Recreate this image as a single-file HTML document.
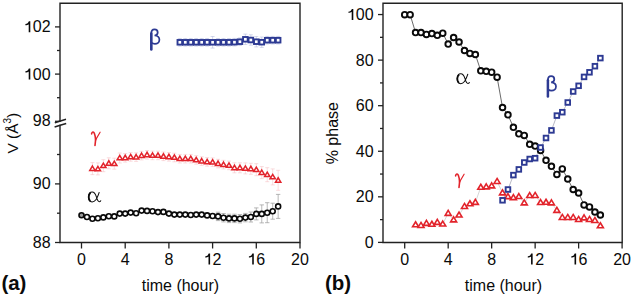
<!DOCTYPE html>
<html><head><meta charset="utf-8"><style>
html,body{margin:0;padding:0;background:#fff;width:632px;height:297px;overflow:hidden}
svg{display:block}
</style></head><body>
<svg width="632" height="297" viewBox="0 0 632 297">
<rect width="632" height="297" fill="#fff"/>
<path d="M60 3.2H300V242.5H60Z" fill="none" stroke="#222" stroke-width="1.4"/>
<rect x="58.5" y="121.8" width="3" height="3" fill="#fff"/>
<path d="M54.8 122.8 Q60 121.2 66 119.3 M54.6 127 Q60 125.2 66.2 123.5" fill="none" stroke="#222" stroke-width="1.55"/>
<path d="M55 26.9H60" stroke="#222" stroke-width="1.3"/>
<path d="M55 74.1H60" stroke="#222" stroke-width="1.3"/>
<path d="M55 121.3H60" stroke="#222" stroke-width="1.3"/>
<path d="M55 183.9H60" stroke="#222" stroke-width="1.3"/>
<path d="M55 242.5H60" stroke="#222" stroke-width="1.3"/>
<path d="M57 50.5H60" stroke="#222" stroke-width="1.3"/>
<path d="M57 97.7H60" stroke="#222" stroke-width="1.3"/>
<path d="M57 154.5H60" stroke="#222" stroke-width="1.3"/>
<path d="M57 213.2H60" stroke="#222" stroke-width="1.3"/>
<path d="M81.5 242.5V248.5" stroke="#222" stroke-width="1.3"/>
<path d="M125.2 242.5V248.5" stroke="#222" stroke-width="1.3"/>
<path d="M168.9 242.5V248.5" stroke="#222" stroke-width="1.3"/>
<path d="M212.6 242.5V248.5" stroke="#222" stroke-width="1.3"/>
<path d="M256.3 242.5V248.5" stroke="#222" stroke-width="1.3"/>
<path d="M300 242.5V248.5" stroke="#222" stroke-width="1.3"/>
<path d="M383 3.2H622.2V242.5H383Z" fill="none" stroke="#222" stroke-width="1.4"/>
<path d="M378 242.4H383" stroke="#222" stroke-width="1.3"/>
<path d="M378 196.83H383" stroke="#222" stroke-width="1.3"/>
<path d="M378 151.26H383" stroke="#222" stroke-width="1.3"/>
<path d="M378 105.69H383" stroke="#222" stroke-width="1.3"/>
<path d="M378 60.12H383" stroke="#222" stroke-width="1.3"/>
<path d="M378 14.55H383" stroke="#222" stroke-width="1.3"/>
<path d="M380 219.62H383" stroke="#222" stroke-width="1.3"/>
<path d="M380 174.05H383" stroke="#222" stroke-width="1.3"/>
<path d="M380 128.47H383" stroke="#222" stroke-width="1.3"/>
<path d="M380 82.91H383" stroke="#222" stroke-width="1.3"/>
<path d="M380 37.33H383" stroke="#222" stroke-width="1.3"/>
<path d="M404.7 242.5V248.5" stroke="#222" stroke-width="1.3"/>
<path d="M448.18 242.5V248.5" stroke="#222" stroke-width="1.3"/>
<path d="M491.66 242.5V248.5" stroke="#222" stroke-width="1.3"/>
<path d="M535.14 242.5V248.5" stroke="#222" stroke-width="1.3"/>
<path d="M578.62 242.5V248.5" stroke="#222" stroke-width="1.3"/>
<path d="M622.1 242.5V248.5" stroke="#222" stroke-width="1.3"/>
<path d="M218.06 212.2V220.6M215.86 212.2H220.26M215.86 220.6H220.26" stroke="#9a9a9a" stroke-width="0.7" fill="none"/>
<path d="M223.53 213.5V221.9M221.33 213.5H225.72M221.33 221.9H225.72" stroke="#9a9a9a" stroke-width="0.7" fill="none"/>
<path d="M228.99 214.2V222.6M226.79 214.2H231.19M226.79 222.6H231.19" stroke="#9a9a9a" stroke-width="0.7" fill="none"/>
<path d="M234.45 214.2V222.6M232.25 214.2H236.65M232.25 222.6H236.65" stroke="#9a9a9a" stroke-width="0.7" fill="none"/>
<path d="M239.91 214.5V222.9M237.71 214.5H242.11M237.71 222.9H242.11" stroke="#9a9a9a" stroke-width="0.7" fill="none"/>
<path d="M245.38 213.4V221.8M243.18 213.4H247.57M243.18 221.8H247.57" stroke="#9a9a9a" stroke-width="0.7" fill="none"/>
<path d="M250.84 212V222M248.64 212H253.04M248.64 222H253.04" stroke="#9a9a9a" stroke-width="0.7" fill="none"/>
<path d="M256.3 207.9V219.9M254.1 207.9H258.5M254.1 219.9H258.5" stroke="#9a9a9a" stroke-width="0.7" fill="none"/>
<path d="M261.76 204.9V222.9M259.56 204.9H263.96M259.56 222.9H263.96" stroke="#9a9a9a" stroke-width="0.7" fill="none"/>
<path d="M267.23 202.7V222.7M265.03 202.7H269.43M265.03 222.7H269.43" stroke="#9a9a9a" stroke-width="0.7" fill="none"/>
<path d="M272.69 203.2V219.2M270.49 203.2H274.89M270.49 219.2H274.89" stroke="#9a9a9a" stroke-width="0.7" fill="none"/>
<path d="M278.15 194.4V218.4M275.95 194.4H280.35M275.95 218.4H280.35" stroke="#9a9a9a" stroke-width="0.7" fill="none"/>
<path d="M92.42 162.6V174.6M90.42 162.6H94.42M90.42 174.6H94.42" stroke="#f5b9bc" stroke-width="0.5" fill="none"/>
<path d="M97.89 162.9V174.9M95.89 162.9H99.89M95.89 174.9H99.89" stroke="#f5b9bc" stroke-width="0.5" fill="none"/>
<path d="M103.35 159.7V171.7M101.35 159.7H105.35M101.35 171.7H105.35" stroke="#f5b9bc" stroke-width="0.5" fill="none"/>
<path d="M108.81 157.8V168.8M106.81 157.8H110.81M106.81 168.8H110.81" stroke="#f5b9bc" stroke-width="0.5" fill="none"/>
<path d="M114.28 158.2V169.2M112.28 158.2H116.28M112.28 169.2H116.28" stroke="#f5b9bc" stroke-width="0.5" fill="none"/>
<path d="M119.74 153V163M117.74 153H121.74M117.74 163H121.74" stroke="#f5b9bc" stroke-width="0.5" fill="none"/>
<path d="M125.2 153.5V162.1M123.2 153.5H127.2M123.2 162.1H127.2" stroke="#f5b9bc" stroke-width="0.5" fill="none"/>
<path d="M130.66 152.6V161.2M128.66 152.6H132.66M128.66 161.2H132.66" stroke="#f5b9bc" stroke-width="0.5" fill="none"/>
<path d="M136.12 152.8V161.4M134.12 152.8H138.12M134.12 161.4H138.12" stroke="#f5b9bc" stroke-width="0.5" fill="none"/>
<path d="M141.59 151.3V159.9M139.59 151.3H143.59M139.59 159.9H143.59" stroke="#f5b9bc" stroke-width="0.5" fill="none"/>
<path d="M147.05 150.5V159.1M145.05 150.5H149.05M145.05 159.1H149.05" stroke="#f5b9bc" stroke-width="0.5" fill="none"/>
<path d="M152.51 151.1V159.7M150.51 151.1H154.51M150.51 159.7H154.51" stroke="#f5b9bc" stroke-width="0.5" fill="none"/>
<path d="M157.98 151.1V159.7M155.98 151.1H159.98M155.98 159.7H159.98" stroke="#f5b9bc" stroke-width="0.5" fill="none"/>
<path d="M163.44 152V160.6M161.44 152H165.44M161.44 160.6H165.44" stroke="#f5b9bc" stroke-width="0.5" fill="none"/>
<path d="M168.9 152.5V161.1M166.9 152.5H170.9M166.9 161.1H170.9" stroke="#f5b9bc" stroke-width="0.5" fill="none"/>
<path d="M174.36 153.2V161.8M172.36 153.2H176.36M172.36 161.8H176.36" stroke="#f5b9bc" stroke-width="0.5" fill="none"/>
<path d="M179.82 154.4V163M177.82 154.4H181.82M177.82 163H181.82" stroke="#f5b9bc" stroke-width="0.5" fill="none"/>
<path d="M185.29 154.4V163M183.29 154.4H187.29M183.29 163H187.29" stroke="#f5b9bc" stroke-width="0.5" fill="none"/>
<path d="M190.75 154.4V163M188.75 154.4H192.75M188.75 163H192.75" stroke="#f5b9bc" stroke-width="0.5" fill="none"/>
<path d="M196.21 155.6V164.2M194.21 155.6H198.21M194.21 164.2H198.21" stroke="#f5b9bc" stroke-width="0.5" fill="none"/>
<path d="M201.68 156.8V165.4M199.68 156.8H203.68M199.68 165.4H203.68" stroke="#f5b9bc" stroke-width="0.5" fill="none"/>
<path d="M207.14 157.6V166.2M205.14 157.6H209.14M205.14 166.2H209.14" stroke="#f5b9bc" stroke-width="0.5" fill="none"/>
<path d="M212.6 157.9V166.5M210.6 157.9H214.6M210.6 166.5H214.6" stroke="#f5b9bc" stroke-width="0.5" fill="none"/>
<path d="M218.06 159.3V167.9M216.06 159.3H220.06M216.06 167.9H220.06" stroke="#f5b9bc" stroke-width="0.5" fill="none"/>
<path d="M223.53 160.3V168.9M221.53 160.3H225.53M221.53 168.9H225.53" stroke="#f5b9bc" stroke-width="0.5" fill="none"/>
<path d="M228.99 161.1V169.7M226.99 161.1H230.99M226.99 169.7H230.99" stroke="#f5b9bc" stroke-width="0.5" fill="none"/>
<path d="M234.45 162.8V172.8M232.45 162.8H236.45M232.45 172.8H236.45" stroke="#f5b9bc" stroke-width="0.5" fill="none"/>
<path d="M239.91 162.8V172.8M237.91 162.8H241.91M237.91 172.8H241.91" stroke="#f5b9bc" stroke-width="0.5" fill="none"/>
<path d="M245.38 162.9V173.9M243.38 162.9H247.38M243.38 173.9H247.38" stroke="#f5b9bc" stroke-width="0.5" fill="none"/>
<path d="M250.84 163.3V174.3M248.84 163.3H252.84M248.84 174.3H252.84" stroke="#f5b9bc" stroke-width="0.5" fill="none"/>
<path d="M256.3 163.7V175.7M254.3 163.7H258.3M254.3 175.7H258.3" stroke="#f5b9bc" stroke-width="0.5" fill="none"/>
<path d="M261.76 166.6V178.6M259.76 166.6H263.76M259.76 178.6H263.76" stroke="#f5b9bc" stroke-width="0.5" fill="none"/>
<path d="M267.23 167.7V181.7M265.23 167.7H269.23M265.23 181.7H269.23" stroke="#f5b9bc" stroke-width="0.5" fill="none"/>
<path d="M272.69 168.9V184.9M270.69 168.9H274.69M270.69 184.9H274.69" stroke="#f5b9bc" stroke-width="0.5" fill="none"/>
<path d="M278.15 170.3V190.3M276.15 170.3H280.15M276.15 190.3H280.15" stroke="#f5b9bc" stroke-width="0.5" fill="none"/>
<path d="M179.82 38.5V46.1M177.82 38.5H181.82M177.82 46.1H181.82" stroke="#a9b0d8" stroke-width="0.5" fill="none"/>
<path d="M185.29 38.5V46.1M183.29 38.5H187.29M183.29 46.1H187.29" stroke="#a9b0d8" stroke-width="0.5" fill="none"/>
<path d="M190.75 38.5V46.1M188.75 38.5H192.75M188.75 46.1H192.75" stroke="#a9b0d8" stroke-width="0.5" fill="none"/>
<path d="M196.21 38.5V46.1M194.21 38.5H198.21M194.21 46.1H198.21" stroke="#a9b0d8" stroke-width="0.5" fill="none"/>
<path d="M201.68 38.5V46.1M199.68 38.5H203.68M199.68 46.1H203.68" stroke="#a9b0d8" stroke-width="0.5" fill="none"/>
<path d="M207.14 38.5V46.1M205.14 38.5H209.14M205.14 46.1H209.14" stroke="#a9b0d8" stroke-width="0.5" fill="none"/>
<path d="M212.6 36.5V48.1M210.6 36.5H214.6M210.6 48.1H214.6" stroke="#a9b0d8" stroke-width="0.5" fill="none"/>
<path d="M218.06 38.5V46.1M216.06 38.5H220.06M216.06 46.1H220.06" stroke="#a9b0d8" stroke-width="0.5" fill="none"/>
<path d="M223.53 38.5V46.1M221.53 38.5H225.53M221.53 46.1H225.53" stroke="#a9b0d8" stroke-width="0.5" fill="none"/>
<path d="M228.99 38.5V46.1M226.99 38.5H230.99M226.99 46.1H230.99" stroke="#a9b0d8" stroke-width="0.5" fill="none"/>
<path d="M234.45 38.4V46M232.45 38.4H236.45M232.45 46H236.45" stroke="#a9b0d8" stroke-width="0.5" fill="none"/>
<path d="M239.91 37.9V45.5M237.91 37.9H241.91M237.91 45.5H241.91" stroke="#a9b0d8" stroke-width="0.5" fill="none"/>
<path d="M245.38 34.1V44.5M243.38 34.1H247.38M243.38 44.5H247.38" stroke="#a9b0d8" stroke-width="0.5" fill="none"/>
<path d="M250.84 34.8V45.2M248.84 34.8H252.84M248.84 45.2H252.84" stroke="#a9b0d8" stroke-width="0.5" fill="none"/>
<path d="M256.3 36.5V46.9M254.3 36.5H258.3M254.3 46.9H258.3" stroke="#a9b0d8" stroke-width="0.5" fill="none"/>
<path d="M261.76 37V47.4M259.76 37H263.76M259.76 47.4H263.76" stroke="#a9b0d8" stroke-width="0.5" fill="none"/>
<path d="M267.23 36.4V44M265.23 36.4H269.23M265.23 44H269.23" stroke="#a9b0d8" stroke-width="0.5" fill="none"/>
<path d="M272.69 36.4V44M270.69 36.4H274.69M270.69 44H274.69" stroke="#a9b0d8" stroke-width="0.5" fill="none"/>
<path d="M278.15 36.4V44M276.15 36.4H280.15M276.15 44H280.15" stroke="#a9b0d8" stroke-width="0.5" fill="none"/>
<circle cx="81.5" cy="215.2" r="2.5" fill="#9a9a9a" stroke="#0a0a0a" stroke-width="1.6"/>
<circle cx="86.96" cy="217" r="2.5" fill="#fff" stroke="#0a0a0a" stroke-width="1.6"/>
<circle cx="92.42" cy="218.7" r="2.5" fill="#fff" stroke="#0a0a0a" stroke-width="1.6"/>
<circle cx="97.89" cy="218.2" r="2.5" fill="#fff" stroke="#0a0a0a" stroke-width="1.6"/>
<circle cx="103.35" cy="217.4" r="2.5" fill="#fff" stroke="#0a0a0a" stroke-width="1.6"/>
<circle cx="108.81" cy="216.2" r="2.5" fill="#fff" stroke="#0a0a0a" stroke-width="1.6"/>
<circle cx="114.28" cy="216.4" r="2.5" fill="#fff" stroke="#0a0a0a" stroke-width="1.6"/>
<circle cx="119.74" cy="213.6" r="2.5" fill="#fff" stroke="#0a0a0a" stroke-width="1.6"/>
<circle cx="125.2" cy="213.6" r="2.5" fill="#fff" stroke="#0a0a0a" stroke-width="1.6"/>
<circle cx="130.66" cy="212.6" r="2.5" fill="#fff" stroke="#0a0a0a" stroke-width="1.6"/>
<circle cx="136.12" cy="213.3" r="2.5" fill="#fff" stroke="#0a0a0a" stroke-width="1.6"/>
<circle cx="141.59" cy="210.6" r="2.5" fill="#fff" stroke="#0a0a0a" stroke-width="1.6"/>
<circle cx="147.05" cy="210.9" r="2.5" fill="#fff" stroke="#0a0a0a" stroke-width="1.6"/>
<circle cx="152.51" cy="211.3" r="2.5" fill="#fff" stroke="#0a0a0a" stroke-width="1.6"/>
<circle cx="157.98" cy="212.1" r="2.5" fill="#fff" stroke="#0a0a0a" stroke-width="1.6"/>
<circle cx="163.44" cy="211.9" r="2.5" fill="#fff" stroke="#0a0a0a" stroke-width="1.6"/>
<circle cx="168.9" cy="213.6" r="2.5" fill="#fff" stroke="#0a0a0a" stroke-width="1.6"/>
<circle cx="174.36" cy="214.6" r="2.5" fill="#fff" stroke="#0a0a0a" stroke-width="1.6"/>
<circle cx="179.82" cy="214.6" r="2.5" fill="#fff" stroke="#0a0a0a" stroke-width="1.6"/>
<circle cx="185.29" cy="214.6" r="2.5" fill="#fff" stroke="#0a0a0a" stroke-width="1.6"/>
<circle cx="190.75" cy="215" r="2.5" fill="#fff" stroke="#0a0a0a" stroke-width="1.6"/>
<circle cx="196.21" cy="214.6" r="2.5" fill="#fff" stroke="#0a0a0a" stroke-width="1.6"/>
<circle cx="201.68" cy="214.6" r="2.5" fill="#fff" stroke="#0a0a0a" stroke-width="1.6"/>
<circle cx="207.14" cy="215.4" r="2.5" fill="#fff" stroke="#0a0a0a" stroke-width="1.6"/>
<circle cx="212.6" cy="216" r="2.5" fill="#fff" stroke="#0a0a0a" stroke-width="1.6"/>
<circle cx="218.06" cy="216.4" r="2.5" fill="#fff" stroke="#0a0a0a" stroke-width="1.6"/>
<circle cx="223.53" cy="217.7" r="2.5" fill="#fff" stroke="#0a0a0a" stroke-width="1.6"/>
<circle cx="228.99" cy="218.4" r="2.5" fill="#fff" stroke="#0a0a0a" stroke-width="1.6"/>
<circle cx="234.45" cy="218.4" r="2.5" fill="#fff" stroke="#0a0a0a" stroke-width="1.6"/>
<circle cx="239.91" cy="218.7" r="2.5" fill="#fff" stroke="#0a0a0a" stroke-width="1.6"/>
<circle cx="245.38" cy="217.6" r="2.5" fill="#fff" stroke="#0a0a0a" stroke-width="1.6"/>
<circle cx="250.84" cy="217" r="2.5" fill="#fff" stroke="#0a0a0a" stroke-width="1.6"/>
<circle cx="256.3" cy="213.9" r="2.5" fill="#fff" stroke="#0a0a0a" stroke-width="1.6"/>
<circle cx="261.76" cy="213.9" r="2.5" fill="#fff" stroke="#0a0a0a" stroke-width="1.6"/>
<circle cx="267.23" cy="212.7" r="2.5" fill="#fff" stroke="#0a0a0a" stroke-width="1.6"/>
<circle cx="272.69" cy="211.2" r="2.5" fill="#fff" stroke="#0a0a0a" stroke-width="1.6"/>
<circle cx="278.15" cy="206.4" r="2.5" fill="#fff" stroke="#0a0a0a" stroke-width="1.6"/>
<path d="M92.42 166.05L95.08 170.45L89.77 170.45Z" fill="#fff" stroke="#e2232b" stroke-width="1.5" stroke-linejoin="miter" stroke-miterlimit="10"/>
<path d="M97.89 166.35L100.54 170.75L95.24 170.75Z" fill="#fff" stroke="#e2232b" stroke-width="1.5" stroke-linejoin="miter" stroke-miterlimit="10"/>
<path d="M103.35 163.15L106 167.55L100.7 167.55Z" fill="#fff" stroke="#e2232b" stroke-width="1.5" stroke-linejoin="miter" stroke-miterlimit="10"/>
<path d="M108.81 160.75L111.46 165.15L106.16 165.15Z" fill="#fff" stroke="#e2232b" stroke-width="1.5" stroke-linejoin="miter" stroke-miterlimit="10"/>
<path d="M114.28 161.15L116.93 165.55L111.62 165.55Z" fill="#fff" stroke="#e2232b" stroke-width="1.5" stroke-linejoin="miter" stroke-miterlimit="10"/>
<path d="M119.74 155.45L122.39 159.85L117.09 159.85Z" fill="#fff" stroke="#e2232b" stroke-width="1.5" stroke-linejoin="miter" stroke-miterlimit="10"/>
<path d="M125.2 155.25L127.85 159.65L122.55 159.65Z" fill="#fff" stroke="#e2232b" stroke-width="1.5" stroke-linejoin="miter" stroke-miterlimit="10"/>
<path d="M130.66 154.35L133.31 158.75L128.01 158.75Z" fill="#fff" stroke="#e2232b" stroke-width="1.5" stroke-linejoin="miter" stroke-miterlimit="10"/>
<path d="M136.12 154.55L138.78 158.95L133.47 158.95Z" fill="#fff" stroke="#e2232b" stroke-width="1.5" stroke-linejoin="miter" stroke-miterlimit="10"/>
<path d="M141.59 153.05L144.24 157.45L138.94 157.45Z" fill="#fff" stroke="#e2232b" stroke-width="1.5" stroke-linejoin="miter" stroke-miterlimit="10"/>
<path d="M147.05 152.25L149.7 156.65L144.4 156.65Z" fill="#fff" stroke="#e2232b" stroke-width="1.5" stroke-linejoin="miter" stroke-miterlimit="10"/>
<path d="M152.51 152.85L155.16 157.25L149.86 157.25Z" fill="#fff" stroke="#e2232b" stroke-width="1.5" stroke-linejoin="miter" stroke-miterlimit="10"/>
<path d="M157.98 152.85L160.63 157.25L155.33 157.25Z" fill="#fff" stroke="#e2232b" stroke-width="1.5" stroke-linejoin="miter" stroke-miterlimit="10"/>
<path d="M163.44 153.75L166.09 158.15L160.79 158.15Z" fill="#fff" stroke="#e2232b" stroke-width="1.5" stroke-linejoin="miter" stroke-miterlimit="10"/>
<path d="M168.9 154.25L171.55 158.65L166.25 158.65Z" fill="#fff" stroke="#e2232b" stroke-width="1.5" stroke-linejoin="miter" stroke-miterlimit="10"/>
<path d="M174.36 154.95L177.01 159.35L171.71 159.35Z" fill="#fff" stroke="#e2232b" stroke-width="1.5" stroke-linejoin="miter" stroke-miterlimit="10"/>
<path d="M179.82 156.15L182.47 160.55L177.17 160.55Z" fill="#fff" stroke="#e2232b" stroke-width="1.5" stroke-linejoin="miter" stroke-miterlimit="10"/>
<path d="M185.29 156.15L187.94 160.55L182.64 160.55Z" fill="#fff" stroke="#e2232b" stroke-width="1.5" stroke-linejoin="miter" stroke-miterlimit="10"/>
<path d="M190.75 156.15L193.4 160.55L188.1 160.55Z" fill="#fff" stroke="#e2232b" stroke-width="1.5" stroke-linejoin="miter" stroke-miterlimit="10"/>
<path d="M196.21 157.35L198.86 161.75L193.56 161.75Z" fill="#fff" stroke="#e2232b" stroke-width="1.5" stroke-linejoin="miter" stroke-miterlimit="10"/>
<path d="M201.68 158.55L204.33 162.95L199.03 162.95Z" fill="#fff" stroke="#e2232b" stroke-width="1.5" stroke-linejoin="miter" stroke-miterlimit="10"/>
<path d="M207.14 159.35L209.79 163.75L204.49 163.75Z" fill="#fff" stroke="#e2232b" stroke-width="1.5" stroke-linejoin="miter" stroke-miterlimit="10"/>
<path d="M212.6 159.65L215.25 164.05L209.95 164.05Z" fill="#fff" stroke="#e2232b" stroke-width="1.5" stroke-linejoin="miter" stroke-miterlimit="10"/>
<path d="M218.06 161.05L220.71 165.45L215.41 165.45Z" fill="#fff" stroke="#e2232b" stroke-width="1.5" stroke-linejoin="miter" stroke-miterlimit="10"/>
<path d="M223.53 162.05L226.18 166.45L220.88 166.45Z" fill="#fff" stroke="#e2232b" stroke-width="1.5" stroke-linejoin="miter" stroke-miterlimit="10"/>
<path d="M228.99 162.85L231.64 167.25L226.34 167.25Z" fill="#fff" stroke="#e2232b" stroke-width="1.5" stroke-linejoin="miter" stroke-miterlimit="10"/>
<path d="M234.45 165.25L237.1 169.65L231.8 169.65Z" fill="#fff" stroke="#e2232b" stroke-width="1.5" stroke-linejoin="miter" stroke-miterlimit="10"/>
<path d="M239.91 165.25L242.56 169.65L237.26 169.65Z" fill="#fff" stroke="#e2232b" stroke-width="1.5" stroke-linejoin="miter" stroke-miterlimit="10"/>
<path d="M245.38 165.85L248.03 170.25L242.72 170.25Z" fill="#fff" stroke="#e2232b" stroke-width="1.5" stroke-linejoin="miter" stroke-miterlimit="10"/>
<path d="M250.84 166.25L253.49 170.65L248.19 170.65Z" fill="#fff" stroke="#e2232b" stroke-width="1.5" stroke-linejoin="miter" stroke-miterlimit="10"/>
<path d="M256.3 167.15L258.95 171.55L253.65 171.55Z" fill="#fff" stroke="#e2232b" stroke-width="1.5" stroke-linejoin="miter" stroke-miterlimit="10"/>
<path d="M261.76 170.05L264.41 174.45L259.11 174.45Z" fill="#fff" stroke="#e2232b" stroke-width="1.5" stroke-linejoin="miter" stroke-miterlimit="10"/>
<path d="M267.23 172.15L269.88 176.55L264.58 176.55Z" fill="#fff" stroke="#e2232b" stroke-width="1.5" stroke-linejoin="miter" stroke-miterlimit="10"/>
<path d="M272.69 174.35L275.34 178.75L270.04 178.75Z" fill="#fff" stroke="#e2232b" stroke-width="1.5" stroke-linejoin="miter" stroke-miterlimit="10"/>
<path d="M278.15 177.75L280.8 182.15L275.5 182.15Z" fill="#fff" stroke="#e2232b" stroke-width="1.5" stroke-linejoin="miter" stroke-miterlimit="10"/>
<rect x="177.52" y="40" width="4.6" height="4.6" fill="#fff" stroke="#2d3a93" stroke-width="1.9"/>
<rect x="182.99" y="40" width="4.6" height="4.6" fill="#fff" stroke="#2d3a93" stroke-width="1.9"/>
<rect x="188.45" y="40" width="4.6" height="4.6" fill="#fff" stroke="#2d3a93" stroke-width="1.9"/>
<rect x="193.91" y="40" width="4.6" height="4.6" fill="#fff" stroke="#2d3a93" stroke-width="1.9"/>
<rect x="199.38" y="40" width="4.6" height="4.6" fill="#fff" stroke="#2d3a93" stroke-width="1.9"/>
<rect x="204.84" y="40" width="4.6" height="4.6" fill="#fff" stroke="#2d3a93" stroke-width="1.9"/>
<rect x="210.3" y="40" width="4.6" height="4.6" fill="#fff" stroke="#2d3a93" stroke-width="1.9"/>
<rect x="215.76" y="40" width="4.6" height="4.6" fill="#fff" stroke="#2d3a93" stroke-width="1.9"/>
<rect x="221.22" y="40" width="4.6" height="4.6" fill="#fff" stroke="#2d3a93" stroke-width="1.9"/>
<rect x="226.69" y="40" width="4.6" height="4.6" fill="#fff" stroke="#2d3a93" stroke-width="1.9"/>
<rect x="232.15" y="39.9" width="4.6" height="4.6" fill="#fff" stroke="#2d3a93" stroke-width="1.9"/>
<rect x="237.61" y="39.4" width="4.6" height="4.6" fill="#fff" stroke="#2d3a93" stroke-width="1.9"/>
<rect x="243.07" y="37" width="4.6" height="4.6" fill="#fff" stroke="#2d3a93" stroke-width="1.9"/>
<rect x="248.54" y="37.7" width="4.6" height="4.6" fill="#fff" stroke="#2d3a93" stroke-width="1.9"/>
<rect x="254" y="39.4" width="4.6" height="4.6" fill="#fff" stroke="#2d3a93" stroke-width="1.9"/>
<rect x="259.46" y="39.9" width="4.6" height="4.6" fill="#fff" stroke="#2d3a93" stroke-width="1.9"/>
<rect x="264.93" y="37.9" width="4.6" height="4.6" fill="#fff" stroke="#2d3a93" stroke-width="1.9"/>
<rect x="270.39" y="37.9" width="4.6" height="4.6" fill="#fff" stroke="#2d3a93" stroke-width="1.9"/>
<rect x="275.85" y="37.9" width="4.6" height="4.6" fill="#fff" stroke="#2d3a93" stroke-width="1.9"/>
<polyline points="404.7,14.7 410.13,14.7 415.57,32.6 421,32.6 426.44,34.4 431.88,33.6 437.31,35.3 442.75,33.2 448.18,44.1 453.62,37.5 459.05,42 464.49,50.5 469.92,53.4 475.36,54.5 480.79,70.8 486.22,71.3 491.66,72.2 497.09,77.2 502.53,107.5 507.96,114.8 513.4,127.3 518.84,133.8 524.27,135.4 529.7,144.3 535.14,146.1 540.58,150.4 546.01,160.3 551.44,166.3 556.88,174.4 562.31,168.9 567.75,179 573.18,189.5 578.62,193 584.05,204.9 589.49,206.9 594.92,212 600.36,215" fill="none" stroke="#444" stroke-width="0.8"/>
<polyline points="415.57,224.7 421,225.4 426.44,223.3 431.88,224.2 437.31,222.3 442.75,224 448.18,213.3 453.62,219.8 459.05,215 464.49,206.4 469.92,203.7 475.36,202.3 480.79,187.2 486.22,186.8 491.66,185.8 497.09,181.4 502.53,192.8 507.96,196.6 513.4,197.6 518.84,196.5 524.27,202.8 529.7,195.5 535.14,195.4 540.58,202.5 546.01,202.2 551.44,202.8 556.88,210.3 562.31,217.4 567.75,217.4 573.18,217.4 578.62,219.4 584.05,217.8 589.49,219.4 594.92,220.4 600.36,225.7" fill="none" stroke="#bbb" stroke-width="0.6"/>
<polyline points="502.53,200.3 507.96,189.5 513.4,175.1 518.84,169.4 524.27,162.5 529.7,159 535.14,158.2 540.58,147.5 546.01,138 551.44,130.4 556.88,115.6 562.31,112.2 567.75,102.5 573.18,91.5 578.62,85.8 584.05,76.9 589.49,72.3 594.92,66.2 600.36,58.1" fill="none" stroke="#99a" stroke-width="0.7"/>
<circle cx="404.7" cy="14.7" r="2.8" fill="#fff" stroke="#0a0a0a" stroke-width="1.9"/>
<circle cx="410.13" cy="14.7" r="2.8" fill="#fff" stroke="#0a0a0a" stroke-width="1.9"/>
<circle cx="415.57" cy="32.6" r="2.8" fill="#fff" stroke="#0a0a0a" stroke-width="1.9"/>
<circle cx="421" cy="32.6" r="2.8" fill="#fff" stroke="#0a0a0a" stroke-width="1.9"/>
<circle cx="426.44" cy="34.4" r="2.8" fill="#fff" stroke="#0a0a0a" stroke-width="1.9"/>
<circle cx="431.88" cy="33.6" r="2.8" fill="#fff" stroke="#0a0a0a" stroke-width="1.9"/>
<circle cx="437.31" cy="35.3" r="2.8" fill="#fff" stroke="#0a0a0a" stroke-width="1.9"/>
<circle cx="442.75" cy="33.2" r="2.8" fill="#fff" stroke="#0a0a0a" stroke-width="1.9"/>
<circle cx="448.18" cy="44.1" r="2.8" fill="#fff" stroke="#0a0a0a" stroke-width="1.9"/>
<circle cx="453.62" cy="37.5" r="2.8" fill="#fff" stroke="#0a0a0a" stroke-width="1.9"/>
<circle cx="459.05" cy="42" r="2.8" fill="#fff" stroke="#0a0a0a" stroke-width="1.9"/>
<circle cx="464.49" cy="50.5" r="2.8" fill="#fff" stroke="#0a0a0a" stroke-width="1.9"/>
<circle cx="469.92" cy="53.4" r="2.8" fill="#fff" stroke="#0a0a0a" stroke-width="1.9"/>
<circle cx="475.36" cy="54.5" r="2.8" fill="#fff" stroke="#0a0a0a" stroke-width="1.9"/>
<circle cx="480.79" cy="70.8" r="2.8" fill="#fff" stroke="#0a0a0a" stroke-width="1.9"/>
<circle cx="486.22" cy="71.3" r="2.8" fill="#fff" stroke="#0a0a0a" stroke-width="1.9"/>
<circle cx="491.66" cy="72.2" r="2.8" fill="#fff" stroke="#0a0a0a" stroke-width="1.9"/>
<circle cx="497.09" cy="77.2" r="2.8" fill="#fff" stroke="#0a0a0a" stroke-width="1.9"/>
<circle cx="502.53" cy="107.5" r="2.8" fill="#fff" stroke="#0a0a0a" stroke-width="1.9"/>
<circle cx="507.96" cy="114.8" r="2.8" fill="#fff" stroke="#0a0a0a" stroke-width="1.9"/>
<circle cx="513.4" cy="127.3" r="2.8" fill="#fff" stroke="#0a0a0a" stroke-width="1.9"/>
<circle cx="518.84" cy="133.8" r="2.8" fill="#fff" stroke="#0a0a0a" stroke-width="1.9"/>
<circle cx="524.27" cy="135.4" r="2.8" fill="#fff" stroke="#0a0a0a" stroke-width="1.9"/>
<circle cx="529.7" cy="144.3" r="2.8" fill="#fff" stroke="#0a0a0a" stroke-width="1.9"/>
<circle cx="535.14" cy="146.1" r="2.8" fill="#fff" stroke="#0a0a0a" stroke-width="1.9"/>
<circle cx="540.58" cy="150.4" r="2.8" fill="#fff" stroke="#0a0a0a" stroke-width="1.9"/>
<circle cx="546.01" cy="160.3" r="2.8" fill="#fff" stroke="#0a0a0a" stroke-width="1.9"/>
<circle cx="551.44" cy="166.3" r="2.8" fill="#fff" stroke="#0a0a0a" stroke-width="1.9"/>
<circle cx="556.88" cy="174.4" r="2.8" fill="#fff" stroke="#0a0a0a" stroke-width="1.9"/>
<circle cx="562.31" cy="168.9" r="2.8" fill="#fff" stroke="#0a0a0a" stroke-width="1.9"/>
<circle cx="567.75" cy="179" r="2.8" fill="#fff" stroke="#0a0a0a" stroke-width="1.9"/>
<circle cx="573.18" cy="189.5" r="2.8" fill="#fff" stroke="#0a0a0a" stroke-width="1.9"/>
<circle cx="578.62" cy="193" r="2.8" fill="#fff" stroke="#0a0a0a" stroke-width="1.9"/>
<circle cx="584.05" cy="204.9" r="2.8" fill="#fff" stroke="#0a0a0a" stroke-width="1.9"/>
<circle cx="589.49" cy="206.9" r="2.8" fill="#fff" stroke="#0a0a0a" stroke-width="1.9"/>
<circle cx="594.92" cy="212" r="2.8" fill="#fff" stroke="#0a0a0a" stroke-width="1.9"/>
<circle cx="600.36" cy="215" r="2.8" fill="#fff" stroke="#0a0a0a" stroke-width="1.9"/>
<path d="M415.57 221.75L418.57 226.75L412.57 226.75Z" fill="#fff" stroke="#e2232b" stroke-width="1.6" stroke-linejoin="miter" stroke-miterlimit="10"/>
<path d="M421 222.45L424 227.45L418 227.45Z" fill="#fff" stroke="#e2232b" stroke-width="1.6" stroke-linejoin="miter" stroke-miterlimit="10"/>
<path d="M426.44 220.35L429.44 225.35L423.44 225.35Z" fill="#fff" stroke="#e2232b" stroke-width="1.6" stroke-linejoin="miter" stroke-miterlimit="10"/>
<path d="M431.88 221.25L434.88 226.25L428.88 226.25Z" fill="#fff" stroke="#e2232b" stroke-width="1.6" stroke-linejoin="miter" stroke-miterlimit="10"/>
<path d="M437.31 219.35L440.31 224.35L434.31 224.35Z" fill="#fff" stroke="#e2232b" stroke-width="1.6" stroke-linejoin="miter" stroke-miterlimit="10"/>
<path d="M442.75 221.05L445.75 226.05L439.75 226.05Z" fill="#fff" stroke="#e2232b" stroke-width="1.6" stroke-linejoin="miter" stroke-miterlimit="10"/>
<path d="M448.18 210.35L451.18 215.35L445.18 215.35Z" fill="#fff" stroke="#e2232b" stroke-width="1.6" stroke-linejoin="miter" stroke-miterlimit="10"/>
<path d="M453.62 216.85L456.62 221.85L450.62 221.85Z" fill="#fff" stroke="#e2232b" stroke-width="1.6" stroke-linejoin="miter" stroke-miterlimit="10"/>
<path d="M459.05 212.05L462.05 217.05L456.05 217.05Z" fill="#fff" stroke="#e2232b" stroke-width="1.6" stroke-linejoin="miter" stroke-miterlimit="10"/>
<path d="M464.49 203.45L467.49 208.45L461.49 208.45Z" fill="#fff" stroke="#e2232b" stroke-width="1.6" stroke-linejoin="miter" stroke-miterlimit="10"/>
<path d="M469.92 200.75L472.92 205.75L466.92 205.75Z" fill="#fff" stroke="#e2232b" stroke-width="1.6" stroke-linejoin="miter" stroke-miterlimit="10"/>
<path d="M475.36 199.35L478.36 204.35L472.36 204.35Z" fill="#fff" stroke="#e2232b" stroke-width="1.6" stroke-linejoin="miter" stroke-miterlimit="10"/>
<path d="M480.79 184.25L483.79 189.25L477.79 189.25Z" fill="#fff" stroke="#e2232b" stroke-width="1.6" stroke-linejoin="miter" stroke-miterlimit="10"/>
<path d="M486.22 183.85L489.22 188.85L483.22 188.85Z" fill="#fff" stroke="#e2232b" stroke-width="1.6" stroke-linejoin="miter" stroke-miterlimit="10"/>
<path d="M491.66 182.85L494.66 187.85L488.66 187.85Z" fill="#fff" stroke="#e2232b" stroke-width="1.6" stroke-linejoin="miter" stroke-miterlimit="10"/>
<path d="M497.09 178.45L500.09 183.45L494.09 183.45Z" fill="#fff" stroke="#e2232b" stroke-width="1.6" stroke-linejoin="miter" stroke-miterlimit="10"/>
<path d="M502.53 189.85L505.53 194.85L499.53 194.85Z" fill="#fff" stroke="#e2232b" stroke-width="1.6" stroke-linejoin="miter" stroke-miterlimit="10"/>
<path d="M507.96 193.65L510.96 198.65L504.96 198.65Z" fill="#fff" stroke="#e2232b" stroke-width="1.6" stroke-linejoin="miter" stroke-miterlimit="10"/>
<path d="M513.4 194.65L516.4 199.65L510.4 199.65Z" fill="#fff" stroke="#e2232b" stroke-width="1.6" stroke-linejoin="miter" stroke-miterlimit="10"/>
<path d="M518.84 193.55L521.84 198.55L515.84 198.55Z" fill="#fff" stroke="#e2232b" stroke-width="1.6" stroke-linejoin="miter" stroke-miterlimit="10"/>
<path d="M524.27 199.85L527.27 204.85L521.27 204.85Z" fill="#fff" stroke="#e2232b" stroke-width="1.6" stroke-linejoin="miter" stroke-miterlimit="10"/>
<path d="M529.7 192.55L532.7 197.55L526.7 197.55Z" fill="#fff" stroke="#e2232b" stroke-width="1.6" stroke-linejoin="miter" stroke-miterlimit="10"/>
<path d="M535.14 192.45L538.14 197.45L532.14 197.45Z" fill="#fff" stroke="#e2232b" stroke-width="1.6" stroke-linejoin="miter" stroke-miterlimit="10"/>
<path d="M540.58 199.55L543.58 204.55L537.58 204.55Z" fill="#fff" stroke="#e2232b" stroke-width="1.6" stroke-linejoin="miter" stroke-miterlimit="10"/>
<path d="M546.01 199.25L549.01 204.25L543.01 204.25Z" fill="#fff" stroke="#e2232b" stroke-width="1.6" stroke-linejoin="miter" stroke-miterlimit="10"/>
<path d="M551.44 199.85L554.44 204.85L548.44 204.85Z" fill="#fff" stroke="#e2232b" stroke-width="1.6" stroke-linejoin="miter" stroke-miterlimit="10"/>
<path d="M556.88 207.35L559.88 212.35L553.88 212.35Z" fill="#fff" stroke="#e2232b" stroke-width="1.6" stroke-linejoin="miter" stroke-miterlimit="10"/>
<path d="M562.31 214.45L565.31 219.45L559.31 219.45Z" fill="#fff" stroke="#e2232b" stroke-width="1.6" stroke-linejoin="miter" stroke-miterlimit="10"/>
<path d="M567.75 214.45L570.75 219.45L564.75 219.45Z" fill="#fff" stroke="#e2232b" stroke-width="1.6" stroke-linejoin="miter" stroke-miterlimit="10"/>
<path d="M573.18 214.45L576.18 219.45L570.18 219.45Z" fill="#fff" stroke="#e2232b" stroke-width="1.6" stroke-linejoin="miter" stroke-miterlimit="10"/>
<path d="M578.62 216.45L581.62 221.45L575.62 221.45Z" fill="#fff" stroke="#e2232b" stroke-width="1.6" stroke-linejoin="miter" stroke-miterlimit="10"/>
<path d="M584.05 214.85L587.05 219.85L581.05 219.85Z" fill="#fff" stroke="#e2232b" stroke-width="1.6" stroke-linejoin="miter" stroke-miterlimit="10"/>
<path d="M589.49 216.45L592.49 221.45L586.49 221.45Z" fill="#fff" stroke="#e2232b" stroke-width="1.6" stroke-linejoin="miter" stroke-miterlimit="10"/>
<path d="M594.92 217.45L597.92 222.45L591.92 222.45Z" fill="#fff" stroke="#e2232b" stroke-width="1.6" stroke-linejoin="miter" stroke-miterlimit="10"/>
<path d="M600.36 222.75L603.36 227.75L597.36 227.75Z" fill="#fff" stroke="#e2232b" stroke-width="1.6" stroke-linejoin="miter" stroke-miterlimit="10"/>
<rect x="500.23" y="198" width="4.6" height="4.6" fill="#fff" stroke="#2d3a93" stroke-width="1.9"/>
<rect x="505.66" y="187.2" width="4.6" height="4.6" fill="#fff" stroke="#2d3a93" stroke-width="1.9"/>
<rect x="511.1" y="172.8" width="4.6" height="4.6" fill="#fff" stroke="#2d3a93" stroke-width="1.9"/>
<rect x="516.54" y="167.1" width="4.6" height="4.6" fill="#fff" stroke="#2d3a93" stroke-width="1.9"/>
<rect x="521.97" y="160.2" width="4.6" height="4.6" fill="#fff" stroke="#2d3a93" stroke-width="1.9"/>
<rect x="527.4" y="156.7" width="4.6" height="4.6" fill="#fff" stroke="#2d3a93" stroke-width="1.9"/>
<rect x="532.84" y="155.9" width="4.6" height="4.6" fill="#fff" stroke="#2d3a93" stroke-width="1.9"/>
<rect x="538.28" y="145.2" width="4.6" height="4.6" fill="#fff" stroke="#2d3a93" stroke-width="1.9"/>
<rect x="543.71" y="135.7" width="4.6" height="4.6" fill="#fff" stroke="#2d3a93" stroke-width="1.9"/>
<rect x="549.14" y="128.1" width="4.6" height="4.6" fill="#fff" stroke="#2d3a93" stroke-width="1.9"/>
<rect x="554.58" y="113.3" width="4.6" height="4.6" fill="#fff" stroke="#2d3a93" stroke-width="1.9"/>
<rect x="560.01" y="109.9" width="4.6" height="4.6" fill="#fff" stroke="#2d3a93" stroke-width="1.9"/>
<rect x="565.45" y="100.2" width="4.6" height="4.6" fill="#fff" stroke="#2d3a93" stroke-width="1.9"/>
<rect x="570.88" y="89.2" width="4.6" height="4.6" fill="#fff" stroke="#2d3a93" stroke-width="1.9"/>
<rect x="576.32" y="83.5" width="4.6" height="4.6" fill="#fff" stroke="#2d3a93" stroke-width="1.9"/>
<rect x="581.75" y="74.6" width="4.6" height="4.6" fill="#fff" stroke="#2d3a93" stroke-width="1.9"/>
<rect x="587.19" y="70" width="4.6" height="4.6" fill="#fff" stroke="#2d3a93" stroke-width="1.9"/>
<rect x="592.62" y="63.9" width="4.6" height="4.6" fill="#fff" stroke="#2d3a93" stroke-width="1.9"/>
<rect x="598.06" y="55.8" width="4.6" height="4.6" fill="#fff" stroke="#2d3a93" stroke-width="1.9"/>
<g transform="translate(149.2 28.4)" fill="none" stroke="#2d3a93"><path d="M2.1 21.4L2.1 4.8C2.1 2.1 3.4 1 5.3 1C7.4 1 8.5 2.3 8.5 4C8.5 5.8 7.3 6.8 5.4 7.1C8.7 7.4 10.2 9.3 10.2 11.4C10.2 13.9 8.1 15.5 5.7 15.5C4.3 15.5 3.2 15 2.3 14.1" stroke-width="1.75"/><path d="M2.1 21.2L2.1 5" stroke-width="2.5" stroke-linecap="round"/></g>
<g transform="translate(545.8 75.2)" fill="none" stroke="#2d3a93"><path d="M2.1 21.4L2.1 4.8C2.1 2.1 3.4 1 5.3 1C7.4 1 8.5 2.3 8.5 4C8.5 5.8 7.3 6.8 5.4 7.1C8.7 7.4 10.2 9.3 10.2 11.4C10.2 13.9 8.1 15.5 5.7 15.5C4.3 15.5 3.2 15 2.3 14.1" stroke-width="1.75"/><path d="M2.1 21.2L2.1 5" stroke-width="2.5" stroke-linecap="round"/></g>
<g transform="translate(91.1 131.3)" fill="none" stroke="#e2232b" stroke-linecap="round"><path d="M0.5 2.6C0.7 0.9 1.9 0.2 2.8 1.2C3.4 1.9 3.7 3.2 4.1 5L4.5 8.6" stroke-width="1.6"/><path d="M9 0.9L4.5 8.6" stroke-width="1.15"/><path d="M4.5 8.6L3.9 14.2" stroke-width="1.6"/></g>
<g transform="translate(455.1 173.3)" fill="none" stroke="#e2232b" stroke-linecap="round"><path d="M0.5 2.6C0.7 0.9 1.9 0.2 2.8 1.2C3.4 1.9 3.7 3.2 4.1 5L4.5 8.6" stroke-width="1.6"/><path d="M9 0.9L4.5 8.6" stroke-width="1.15"/><path d="M4.5 8.6L3.9 14.2" stroke-width="1.6"/></g>
<g transform="translate(87.6 191.4)" fill="none" stroke="#0a0a0a"><path d="M11.7 0.7C10.7 3.6 9.7 6.5 8.3 8.3C7.1 9.8 5.8 10.5 4.5 10.5C2.3 10.5 1 8.6 1 5.6C1 2.6 2.6 0.6 4.6 0.6C6.6 0.6 7.8 2.2 8.8 5.5C9.6 8.3 10.4 10.3 11.8 10.3C12.6 10.3 13.1 9.8 13.3 9" stroke-width="1.05"/><path d="M2.9 1.4C1.5 2.6 1.1 4.3 1.1 5.6C1.1 7.2 1.5 8.6 2.7 9.7" stroke-width="1.8"/></g>
<g transform="translate(456.2 73.2)" fill="none" stroke="#0a0a0a"><path d="M11.7 0.7C10.7 3.6 9.7 6.5 8.3 8.3C7.1 9.8 5.8 10.5 4.5 10.5C2.3 10.5 1 8.6 1 5.6C1 2.6 2.6 0.6 4.6 0.6C6.6 0.6 7.8 2.2 8.8 5.5C9.6 8.3 10.4 10.3 11.8 10.3C12.6 10.3 13.1 9.8 13.3 9" stroke-width="1.05"/><path d="M2.9 1.4C1.5 2.6 1.1 4.3 1.1 5.6C1.1 7.2 1.5 8.6 2.7 9.7" stroke-width="1.8"/></g>
<path transform="translate(23.9 32.3) scale(0.007812 -0.007812)" d="M615 0L615 1040C520 960 370 920 192 910L192 1050C420 1080 560 1200 640 1409L820 1409L820 0Z" fill="#0a0a0a"/>
<text x="32.8" y="32.3" font-family='"Liberation Sans", sans-serif' font-size="16" text-anchor="start" fill="#0a0a0a" font-weight="normal" >02</text>
<path transform="translate(23.9 79.5) scale(0.007812 -0.007812)" d="M615 0L615 1040C520 960 370 920 192 910L192 1050C420 1080 560 1200 640 1409L820 1409L820 0Z" fill="#0a0a0a"/>
<text x="32.8" y="79.5" font-family='"Liberation Sans", sans-serif' font-size="16" text-anchor="start" fill="#0a0a0a" font-weight="normal" >00</text>
<text x="32.8" y="125.9" font-family='"Liberation Sans", sans-serif' font-size="16" text-anchor="start" fill="#0a0a0a" font-weight="normal" >98</text>
<text x="32.8" y="189.3" font-family='"Liberation Sans", sans-serif' font-size="16" text-anchor="start" fill="#0a0a0a" font-weight="normal" >90</text>
<text x="32.8" y="247.9" font-family='"Liberation Sans", sans-serif' font-size="16" text-anchor="start" fill="#0a0a0a" font-weight="normal" >88</text>
<text x="364.7" y="247.8" font-family='"Liberation Sans", sans-serif' font-size="16" text-anchor="start" fill="#0a0a0a" font-weight="normal" >0</text>
<text x="355.8" y="202.23" font-family='"Liberation Sans", sans-serif' font-size="16" text-anchor="start" fill="#0a0a0a" font-weight="normal" >20</text>
<text x="355.8" y="156.66" font-family='"Liberation Sans", sans-serif' font-size="16" text-anchor="start" fill="#0a0a0a" font-weight="normal" >40</text>
<text x="355.8" y="111.09" font-family='"Liberation Sans", sans-serif' font-size="16" text-anchor="start" fill="#0a0a0a" font-weight="normal" >60</text>
<text x="355.8" y="65.52" font-family='"Liberation Sans", sans-serif' font-size="16" text-anchor="start" fill="#0a0a0a" font-weight="normal" >80</text>
<path transform="translate(346.9 19.95) scale(0.007812 -0.007812)" d="M615 0L615 1040C520 960 370 920 192 910L192 1050C420 1080 560 1200 640 1409L820 1409L820 0Z" fill="#0a0a0a"/>
<text x="355.8" y="19.95" font-family='"Liberation Sans", sans-serif' font-size="16" text-anchor="start" fill="#0a0a0a" font-weight="normal" >00</text>
<text x="77.05" y="264.6" font-family='"Liberation Sans", sans-serif' font-size="16" text-anchor="start" fill="#0a0a0a" font-weight="normal" >0</text>
<text x="400.25" y="264.6" font-family='"Liberation Sans", sans-serif' font-size="16" text-anchor="start" fill="#0a0a0a" font-weight="normal" >0</text>
<text x="120.75" y="264.6" font-family='"Liberation Sans", sans-serif' font-size="16" text-anchor="start" fill="#0a0a0a" font-weight="normal" >4</text>
<text x="443.73" y="264.6" font-family='"Liberation Sans", sans-serif' font-size="16" text-anchor="start" fill="#0a0a0a" font-weight="normal" >4</text>
<text x="164.45" y="264.6" font-family='"Liberation Sans", sans-serif' font-size="16" text-anchor="start" fill="#0a0a0a" font-weight="normal" >8</text>
<text x="487.21" y="264.6" font-family='"Liberation Sans", sans-serif' font-size="16" text-anchor="start" fill="#0a0a0a" font-weight="normal" >8</text>
<path transform="translate(203.7 264.6) scale(0.007812 -0.007812)" d="M615 0L615 1040C520 960 370 920 192 910L192 1050C420 1080 560 1200 640 1409L820 1409L820 0Z" fill="#0a0a0a"/>
<text x="212.6" y="264.6" font-family='"Liberation Sans", sans-serif' font-size="16" text-anchor="start" fill="#0a0a0a" font-weight="normal" >2</text>
<path transform="translate(526.24 264.6) scale(0.007812 -0.007812)" d="M615 0L615 1040C520 960 370 920 192 910L192 1050C420 1080 560 1200 640 1409L820 1409L820 0Z" fill="#0a0a0a"/>
<text x="535.14" y="264.6" font-family='"Liberation Sans", sans-serif' font-size="16" text-anchor="start" fill="#0a0a0a" font-weight="normal" >2</text>
<path transform="translate(247.4 264.6) scale(0.007812 -0.007812)" d="M615 0L615 1040C520 960 370 920 192 910L192 1050C420 1080 560 1200 640 1409L820 1409L820 0Z" fill="#0a0a0a"/>
<text x="256.3" y="264.6" font-family='"Liberation Sans", sans-serif' font-size="16" text-anchor="start" fill="#0a0a0a" font-weight="normal" >6</text>
<path transform="translate(569.72 264.6) scale(0.007812 -0.007812)" d="M615 0L615 1040C520 960 370 920 192 910L192 1050C420 1080 560 1200 640 1409L820 1409L820 0Z" fill="#0a0a0a"/>
<text x="578.62" y="264.6" font-family='"Liberation Sans", sans-serif' font-size="16" text-anchor="start" fill="#0a0a0a" font-weight="normal" >6</text>
<text x="291.1" y="264.6" font-family='"Liberation Sans", sans-serif' font-size="16" text-anchor="start" fill="#0a0a0a" font-weight="normal" >20</text>
<text x="613.2" y="264.6" font-family='"Liberation Sans", sans-serif' font-size="16" text-anchor="start" fill="#0a0a0a" font-weight="normal" >20</text>
<text x="180.4" y="290.9" font-family='"Liberation Sans", sans-serif' font-size="16" text-anchor="middle" fill="#0a0a0a" font-weight="normal" >time (hour)</text>
<text x="503.5" y="290.9" font-family='"Liberation Sans", sans-serif' font-size="16" text-anchor="middle" fill="#0a0a0a" font-weight="normal" >time (hour)</text>
<text x="0" y="0" font-family='"Liberation Sans", sans-serif' font-size="16" text-anchor="middle" fill="#0a0a0a" font-weight="normal" transform="translate(337.6 133.2) rotate(-90)">% phase</text>
<text x="0" y="0" font-family='"Liberation Sans", sans-serif' font-size="15.4" text-anchor="middle" fill="#0a0a0a" font-weight="normal" transform="translate(17.6 133.2) rotate(-90)">V (Å<tspan font-size="10" dy="-6.3">3</tspan><tspan dy="6.3">)</tspan></text>
<text x="1.4" y="290.4" font-family='"Liberation Sans", sans-serif' font-size="20.5" text-anchor="start" fill="#0a0a0a" font-weight="bold" >(a)</text>
<text x="324.9" y="290.4" font-family='"Liberation Sans", sans-serif' font-size="20.5" text-anchor="start" fill="#0a0a0a" font-weight="bold" >(b)</text>
</svg>
</body></html>
